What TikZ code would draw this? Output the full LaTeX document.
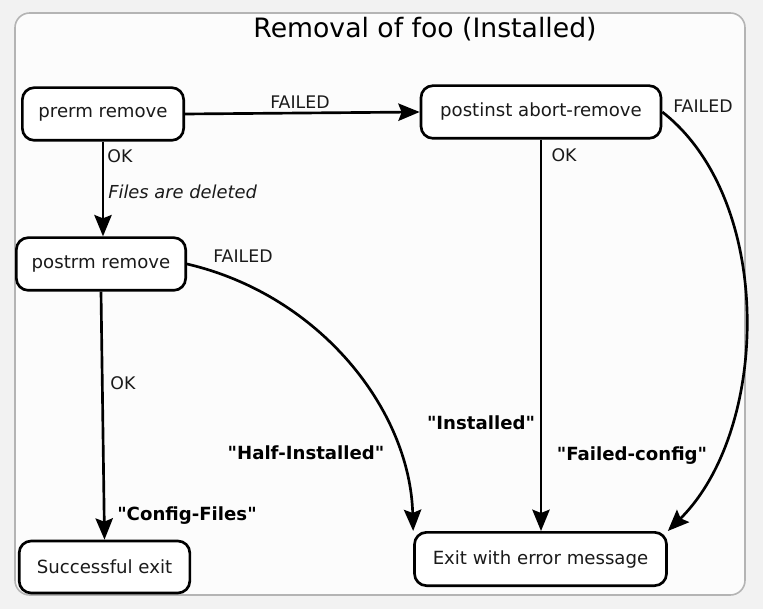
\documentclass[tikz,border=0pt]{standalone}
\usepackage{fontspec}
\setmainfont{DejaVu Sans}[Ligatures=TeXOff]
\usetikzlibrary{arrows.meta}
\definecolor{outerbg}{HTML}{F2F2F2}
\definecolor{panelbg}{HTML}{FCFCFC}
\definecolor{panelline}{HTML}{B4B4B4}
\definecolor{txt}{HTML}{1A1A1A}
\begin{document}
\begin{tikzpicture}[x=0.75pt,y=-0.75pt,
  state/.style={draw=black, line width=2pt, rounded corners=9pt, fill=white, inner sep=0pt, text=txt, font=\fontsize{13.6}{16}\selectfont},
  lbl/.style={font=\fontsize{13}{15}\selectfont, inner sep=0pt, text=txt},
  ilbl/.style={font=\fontsize{13.4}{15}\selectfont\itshape, inner sep=0pt, text=txt},
  blbl/.style={font=\fontsize{13.6}{16}\selectfont\bfseries, inner sep=0pt, text=black},
  conn/.style={line width=2pt, -{Stealth[length=16pt,width=13pt,inset=2.5pt]}}]
\fill[outerbg] (0,0) rectangle (763,609);
\useasboundingbox (0,0) rectangle (763,609);
\draw[panelline, fill=panelbg, line width=1.2pt, rounded corners=11pt] (15,13) rectangle (745,595);
\node[font=\fontsize{20}{24}\selectfont, text=black] (title) at (425,29) {Removal of foo (Installed)};

\node[state, minimum width=121pt, minimum height=39.5pt] (prerm) at (103,114) {prerm remove};
\node[state, minimum width=180pt, minimum height=39.5pt] (postinst) at (541,112) {postinst abort-remove};
\node[state, minimum width=127pt, minimum height=39.5pt] (postrm) at (101,264) {postrm remove};
\node[state, minimum width=128pt, minimum height=39pt] (success) at (104.5,567) {Successful exit};
\node[state, minimum width=189pt, minimum height=40pt] (exit) at (540.5,559) {Exit with error message};

\draw[conn] (prerm.east) -- (postinst.west);
\draw[conn] (prerm.south) -- (prerm.south |- postrm.north);
\draw[conn] (postrm.south) -- (success.north);
\draw[conn] (postinst.south) -- (postinst.south |- exit.north);
\draw[conn] (postrm.east) .. controls (320,295) and (410,410) .. (exit.north west);
\draw[conn] (postinst.east) .. controls (775,200) and (770,430) .. (exit.north east);

\node[lbl] (l1) at (300,102) {FAILED};
\node[lbl] (l2) at (703,106) {FAILED};
\node[lbl] (l3) at (120,156) {OK};
\node[ilbl, anchor=west] (l4) at (108,192) {Files are deleted};
\node[lbl] (l5) at (243,256) {FAILED};
\node[lbl] (l6) at (123,383) {OK};
\node[blbl] (l7) at (306,453) {"Half-Installed"};
\node[blbl] (l8) at (187,516) {"Config-Files"};
\node[lbl] (l9) at (564,155) {OK};
\node[blbl] (l10) at (481,423) {"Installed"};
\node[blbl] (l11) at (632,456) {"Failed-config"};
\end{tikzpicture}
\end{document}
